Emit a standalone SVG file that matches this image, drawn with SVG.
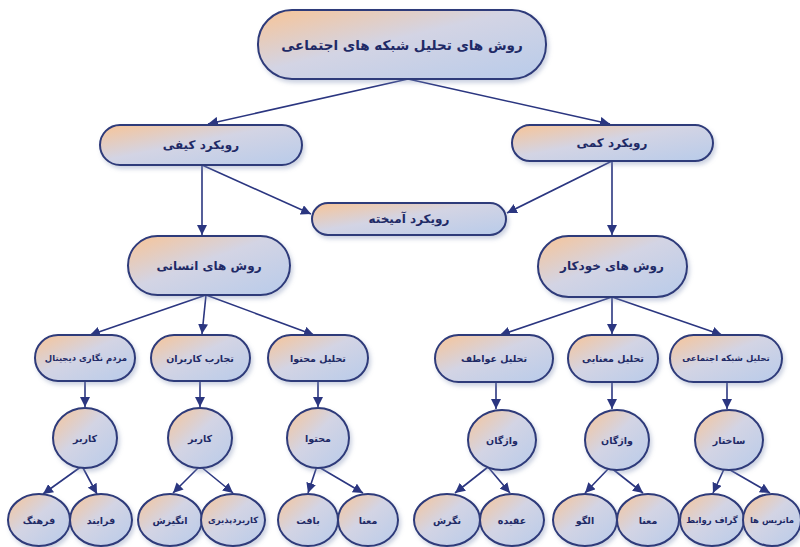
<svg xmlns="http://www.w3.org/2000/svg" width="800" height="547" viewBox="0 0 800 547">
<defs>
<linearGradient id="g" x1="0" y1="0" x2="1" y2="1">
<stop offset="0" stop-color="#f8c496"/>
<stop offset="0.45" stop-color="#d3d4e4"/>
<stop offset="1" stop-color="#b8cbea"/>
</linearGradient>
<filter id="sh" x="-20%" y="-20%" width="140%" height="150%">
<feDropShadow dx="2" dy="3" stdDeviation="2" flood-color="#7f8fb5" flood-opacity="0.4"/>
</filter>
<marker id="ah" markerUnits="userSpaceOnUse" markerWidth="10" markerHeight="10" viewBox="0 0 10 10" refX="10" refY="5" orient="auto">
<path d="M0,0 L10,5 L0,10 z" fill="#2b3680"/>
</marker>
<style>
.nd{fill:url(#g);stroke:#2e3a7a;stroke-width:2;filter:url(#sh)}
.t{font-family:"DejaVu Sans",sans-serif;font-weight:bold;fill:#1f2a66;text-anchor:middle;dominant-baseline:central}
.t1{font-size:13.5px}
.t2{font-size:12px}
.t3{font-size:9.5px}
.t4{font-size:8.5px}
.c{stroke:#2b3680;stroke-width:1.6;fill:none;marker-end:url(#ah)}
</style>
</defs>
<rect width="800" height="547" fill="#ffffff"/>
<g id="connectors">
<line class="c" x1="408" y1="79" x2="208" y2="124"/>
<line class="c" x1="408" y1="79" x2="610" y2="124"/>
<line class="c" x1="202" y1="165" x2="202" y2="235"/>
<line class="c" x1="202" y1="165" x2="311" y2="214"/>
<line class="c" x1="612" y1="161" x2="612" y2="235"/>
<line class="c" x1="612" y1="161" x2="507" y2="213"/>
<line class="c" x1="206" y1="295" x2="90" y2="335"/>
<line class="c" x1="206" y1="295" x2="202" y2="334"/>
<line class="c" x1="206" y1="295" x2="314" y2="335"/>
<line class="c" x1="612" y1="297" x2="500" y2="335"/>
<line class="c" x1="612" y1="297" x2="612" y2="334"/>
<line class="c" x1="612" y1="297" x2="722" y2="335"/>
<line class="c" x1="85" y1="381" x2="85" y2="407"/>
<line class="c" x1="200" y1="381" x2="200" y2="407"/>
<line class="c" x1="318" y1="381" x2="318" y2="407"/>
<line class="c" x1="496" y1="382" x2="496" y2="409"/>
<line class="c" x1="612" y1="382" x2="612" y2="409"/>
<line class="c" x1="727" y1="382" x2="727" y2="409"/>
<line class="c" x1="82" y1="466" x2="43" y2="494"/>
<line class="c" x1="82" y1="466" x2="97" y2="494"/>
<line class="c" x1="200" y1="466" x2="173" y2="493"/>
<line class="c" x1="200" y1="466" x2="233" y2="493"/>
<line class="c" x1="317" y1="466" x2="308" y2="493"/>
<line class="c" x1="317" y1="466" x2="363" y2="493"/>
<line class="c" x1="488" y1="467" x2="455" y2="493"/>
<line class="c" x1="488" y1="467" x2="510" y2="493"/>
<line class="c" x1="610" y1="467" x2="585" y2="493"/>
<line class="c" x1="610" y1="467" x2="643" y2="493"/>
<line class="c" x1="725" y1="467" x2="713" y2="493"/>
<line class="c" x1="725" y1="467" x2="770" y2="493"/>
</g>
<g id="n0"><rect class="nd" x="258" y="10" width="288" height="69" rx="34"/><text class="t t1" x="402" y="45">روش های تحلیل شبکه های اجتماعی</text></g>
<g id="n1"><rect class="nd" x="100" y="125" width="202" height="40" rx="20"/><text class="t t2" x="201" y="145">رویکرد کیفی</text></g>
<g id="n2"><rect class="nd" x="512" y="125" width="201" height="36" rx="18"/><text class="t t2" x="612" y="143">رویکرد کمی</text></g>
<g id="n3"><rect class="nd" x="312" y="203" width="194" height="32" rx="16"/><text class="t t2" x="409" y="219">رویکرد آمیخته</text></g>
<g id="n4"><rect class="nd" x="128" y="236" width="162" height="59" rx="29.5"/><text class="t t2" x="209" y="266">روش های انسانی</text></g>
<g id="n5"><rect class="nd" x="538" y="236" width="149" height="61" rx="30.5"/><text class="t t2" x="612" y="266">روش های خودکار</text></g>
<g id="n6"><rect class="nd" x="35" y="335" width="100" height="46" rx="23"/><text class="t t4" x="86" y="358">مردم نگاری دیجیتال</text></g>
<g id="n7"><rect class="nd" x="151" y="335" width="99" height="46" rx="23"/><text class="t t3" x="200" y="358">تجارب کاربران</text></g>
<g id="n8"><rect class="nd" x="268" y="335" width="100" height="46" rx="23"/><text class="t t3" x="318" y="358">تحلیل محتوا</text></g>
<g id="n9"><rect class="nd" x="435" y="335" width="118" height="47" rx="23.5"/><text class="t t3" x="494" y="358">تحلیل عواطف</text></g>
<g id="n10"><rect class="nd" x="568" y="335" width="90" height="47" rx="23.5"/><text class="t t3" x="613" y="358">تحلیل معنایی</text></g>
<g id="n11"><rect class="nd" x="670" y="335" width="112" height="47" rx="23.5"/><text class="t t4" x="726" y="358">تحلیل شبکه اجتماعی</text></g>
<g id="n12"><ellipse class="nd" cx="85" cy="438" rx="32" ry="30"/><text class="t t3" x="85" y="438">کاربر</text></g>
<g id="n13"><ellipse class="nd" cx="200" cy="438" rx="32" ry="30"/><text class="t t3" x="200" y="438">کاربر</text></g>
<g id="n14"><ellipse class="nd" cx="318" cy="438" rx="31" ry="30"/><text class="t t3" x="318" y="438">محتوا</text></g>
<g id="n15"><ellipse class="nd" cx="502" cy="440" rx="34" ry="30"/><text class="t t3" x="502" y="440">واژگان</text></g>
<g id="n16"><ellipse class="nd" cx="617" cy="440" rx="32" ry="30"/><text class="t t3" x="617" y="440">واژگان</text></g>
<g id="n17"><ellipse class="nd" cx="729" cy="440" rx="34" ry="30"/><text class="t t3" x="729" y="440">ساختار</text></g>
<g id="n18"><ellipse class="nd" cx="39" cy="520" rx="31" ry="26"/><text class="t t3" x="39" y="520">فرهنگ</text></g>
<g id="n19"><ellipse class="nd" cx="101" cy="520" rx="31" ry="26"/><text class="t t3" x="101" y="520">فرایند</text></g>
<g id="n20"><ellipse class="nd" cx="170" cy="520" rx="32" ry="26"/><text class="t t3" x="170" y="520">انگیزش</text></g>
<g id="n21"><ellipse class="nd" cx="233" cy="520" rx="32" ry="26"/><text class="t t4" x="233" y="520">کاربردپذیری</text></g>
<g id="n22"><ellipse class="nd" cx="308" cy="520" rx="30" ry="26"/><text class="t t3" x="308" y="520">بافت</text></g>
<g id="n23"><ellipse class="nd" cx="368" cy="520" rx="30" ry="26"/><text class="t t3" x="368" y="520">معنا</text></g>
<g id="n24"><ellipse class="nd" cx="447" cy="520" rx="33" ry="26"/><text class="t t3" x="447" y="520">نگرش</text></g>
<g id="n25"><ellipse class="nd" cx="512" cy="520" rx="32" ry="26"/><text class="t t3" x="512" y="520">عقیده</text></g>
<g id="n26"><ellipse class="nd" cx="585" cy="520" rx="32" ry="26"/><text class="t t3" x="585" y="520">الگو</text></g>
<g id="n27"><ellipse class="nd" cx="648" cy="520" rx="31" ry="26"/><text class="t t3" x="648" y="520">معنا</text></g>
<g id="n28"><ellipse class="nd" cx="712" cy="520" rx="32" ry="26"/><text class="t t4" x="712" y="520">گراف روابط</text></g>
<g id="n29"><ellipse class="nd" cx="772" cy="520" rx="29" ry="26"/><text class="t t4" x="772" y="520">ماتریس ها</text></g>
</svg>
